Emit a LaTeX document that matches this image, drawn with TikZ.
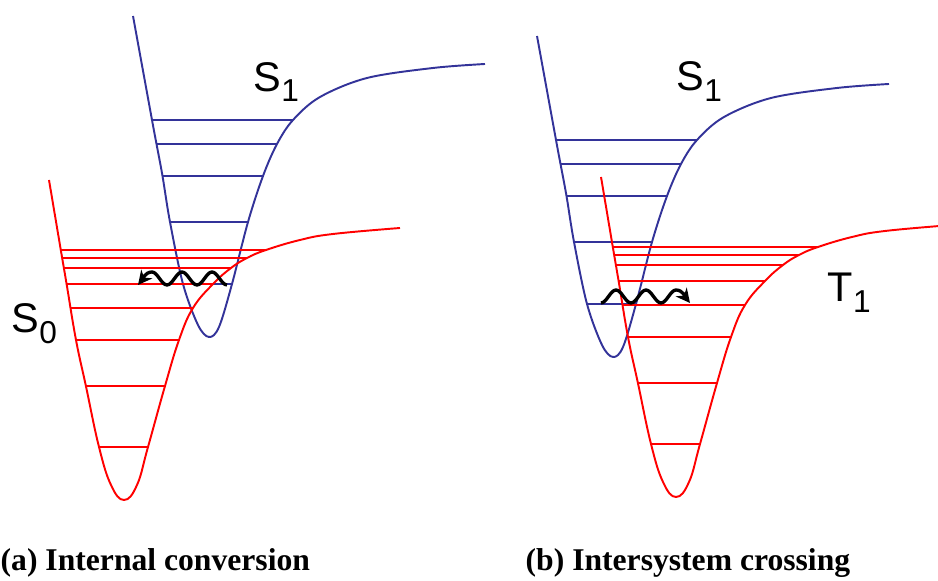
\documentclass[tikz,border=0pt]{standalone}
\usepackage{fontspec}
\setmainfont{Liberation Serif}
\setsansfont{Liberation Sans}
\usetikzlibrary{arrows.meta}
\definecolor{singletblue}{HTML}{333399}
\definecolor{statered}{HTML}{FF0000}

\begin{document}
\begin{tikzpicture}[x=0.1mm, y=-0.1mm,
    pes/.style={line width=0.55pt},
    vib/.style={line width=0.55pt},
    wiggle/.style={line width=0.95pt, -{Stealth[length=4pt, width=4pt]}},
    statelabel/.style={font=\sffamily\fontsize{11.8}{12}\selectfont, inner sep=0pt, anchor=base west},
    captext/.style={font=\bfseries\fontsize{9}{10}\selectfont, inner sep=0pt, anchor=base west}]
    \useasboundingbox (0,0) rectangle (938,581);

    % Singlet S1 curves (a) and (b)
    \foreach \dx/\dy in {0/0, 404/20} {
        \begin{scope}[shift={(\dx,\dy)}, singletblue]
            \draw[pes] plot[smooth, tension=0.55] coordinates {(133,16) (152,120) (156.5,144) (162.5,176) (170,222) (183,284) (198,325) (209,337) (219,327) (232,284) (248,222) (263,176) (277,144) (293,120) (320,97) (367,78) (433,68) (485,64)};
            \foreach \y/\xl/\xr in {120/152/293, 144/156.5/277, 176/162.5/263, 222/170/248, 284/183/232}
                \draw[vib] (\xl,\y) -- (\xr,\y);
        \end{scope}
    }

    % S0 (a) and T1 (b) curves
    \foreach \dx/\dy in {0/0, 552/-3} {
        \begin{scope}[shift={(\dx,\dy)}, statered]
            \draw[pes] plot[smooth, tension=0.7] coordinates {(49,180) (60.8,250) (66.6,284) (76,340) (85.9,386) (99,447) (111,485) (124,500) (137,485) (148,447) (165,386) (179,340) (193,308) (213,284) (231,268) (247,258) (266,250) (300,240) (333,234) (400,228)};
            \foreach \y/\xl/\xr in {250/60.8/266, 258/62.2/247, 268/63.9/231, 284/66.6/213, 308/70.6/193, 340/76/179, 386/85.9/165, 447/99/148}
                \draw[vib] (\xl,\y) -- (\xr,\y);
        \end{scope}
    }

    % Internal conversion
    \draw[wiggle] (227,285) cos (219.5,278.5) sin (212,272) cos (204.5,278.5) sin (197,285) cos (189.5,278.5) sin (182,272) cos (174.5,278.5) sin (167,285) cos (159.5,278.5) sin (152,272)
        .. controls (145,272) and (142,280) .. (138,285);

    % Intersystem crossing
    \draw[wiggle] (601,303) cos (608.5,296.5) sin (616,290) cos (623.5,296.5) sin (631,303) cos (638.5,296.5) sin (646,290) cos (653.5,296.5) sin (661,303) cos (668.5,296.5) sin (676,290)
        .. controls (683,290) and (686,298) .. (690,303);

    % Labels
    \node[statelabel] (s1a) at (253,92) {S\raisebox{-2.85pt}{\fontsize{9}{9}\selectfont 1}};
    \node[statelabel] (s0a) at (11,333) {S\raisebox{-2.85pt}{\fontsize{9}{9}\selectfont 0}};
    \node[statelabel] (s1b) at (676,91) {S\raisebox{-2.85pt}{\fontsize{9}{9}\selectfont 1}};
    \node[statelabel] (t1b) at (827,302) {T\raisebox{-2.85pt}{\fontsize{9}{9}\selectfont 1}};

    \node[captext] (capa) at (0,571) {(a) Internal conversion};
    \node[captext] (capb) at (525,571) {(b) Intersystem crossing};
\end{tikzpicture}
\end{document}
